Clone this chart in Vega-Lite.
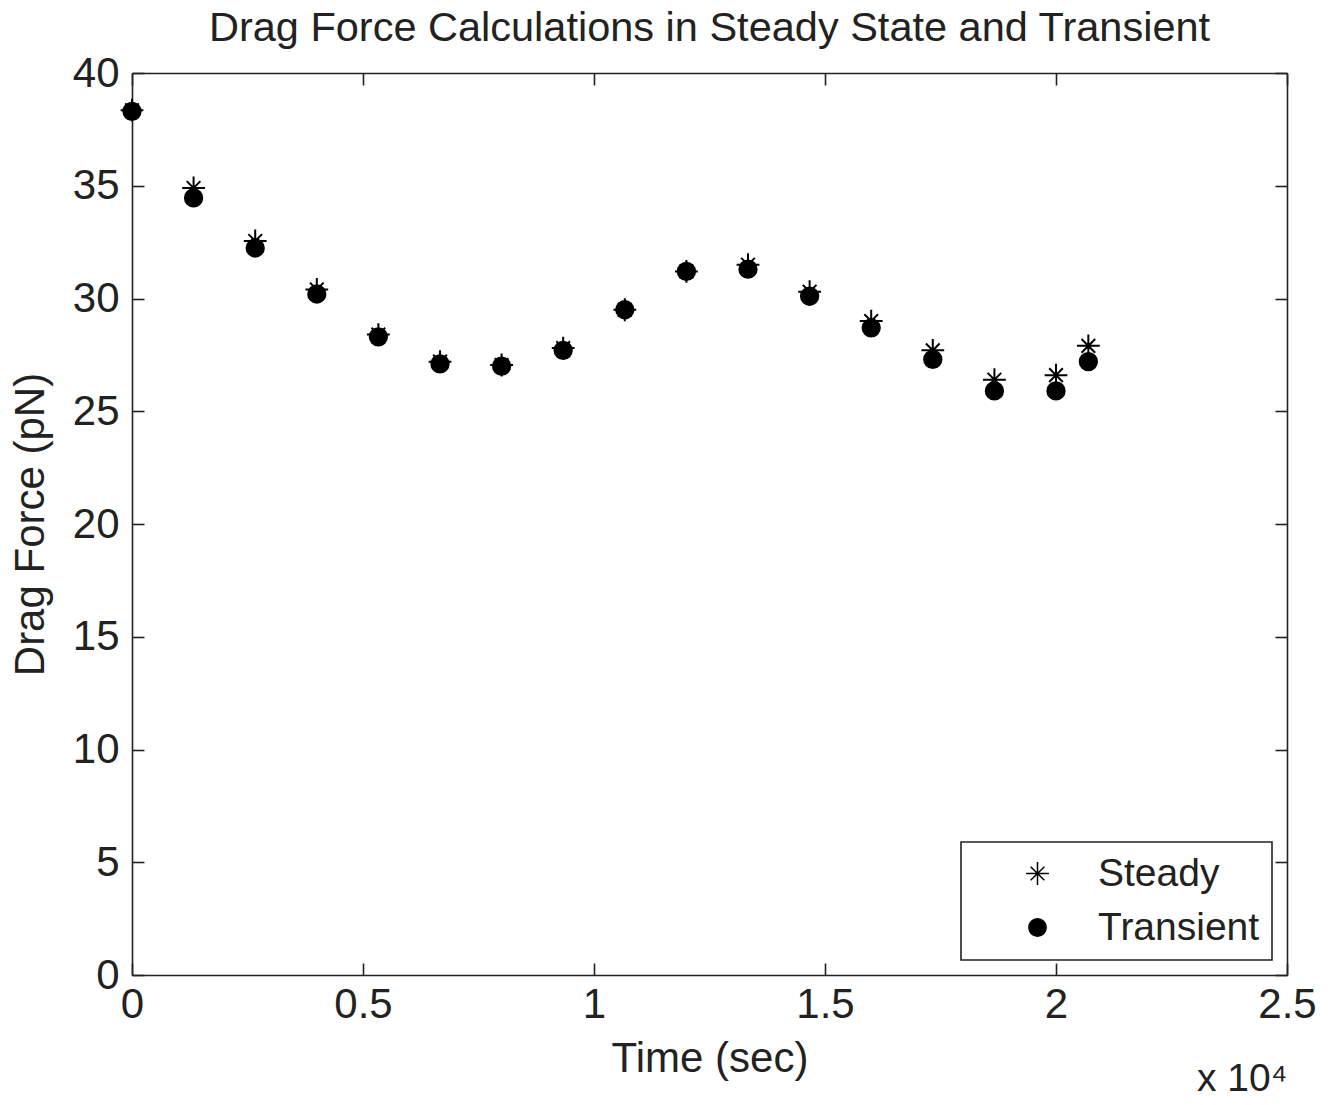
{
  "$schema": "https://vega.github.io/schema/vega-lite/v6.json",
  "width": 1155,
  "height": 902,
  "padding": {"left": 9, "top": 7, "right": 40, "bottom": 0},
  "background": "white",
  "title": {"text": "Drag Force Calculations in Steady State and Transient", "fontSize": 41.5, "font": "Liberation Sans", "fontWeight": "normal", "color": "#222", "offset": 3, "anchor": "middle"},
  "config": {
    "view": {"stroke": null},
    "font": "Liberation Sans",
    "axis": {"grid": false, "domainColor": "#222", "domainWidth": 1.6, "tickColor": "#222", "tickWidth": 1.6, "tickSize": -12, "labelFont": "Liberation Sans", "labelFontSize": 42, "labelColor": "#222", "labelFlush": false, "titleFont": "Liberation Sans", "titleFontSize": 42, "titleFontWeight": "normal", "titleColor": "#222"},
    "legend": {"strokeColor": "#222", "strokeWidth": 1.6, "fillColor": "white", "padding": 12, "labelFont": "Liberation Sans", "labelFontSize": 39, "labelColor": "#222", "labelLimit": 400, "symbolOffset": 45, "labelOffset": 41, "rowPadding": 14, "offset": 15}
  },
  "data": {"values": [
    {"time": 0, "force": 38.35, "series": "Steady"},
    {"time": 1333, "force": 34.9, "series": "Steady"},
    {"time": 2667, "force": 32.55, "series": "Steady"},
    {"time": 4000, "force": 30.4, "series": "Steady"},
    {"time": 5333, "force": 28.4, "series": "Steady"},
    {"time": 6667, "force": 27.2, "series": "Steady"},
    {"time": 8000, "force": 27.05, "series": "Steady"},
    {"time": 9333, "force": 27.8, "series": "Steady"},
    {"time": 10667, "force": 29.5, "series": "Steady"},
    {"time": 12000, "force": 31.2, "series": "Steady"},
    {"time": 13333, "force": 31.5, "series": "Steady"},
    {"time": 14667, "force": 30.3, "series": "Steady"},
    {"time": 16000, "force": 29.0, "series": "Steady"},
    {"time": 17333, "force": 27.7, "series": "Steady"},
    {"time": 18667, "force": 26.4, "series": "Steady"},
    {"time": 20000, "force": 26.6, "series": "Steady"},
    {"time": 20700, "force": 27.9, "series": "Steady"},
    {"time": 0, "force": 38.3, "series": "Transient"},
    {"time": 1333, "force": 34.46, "series": "Transient"},
    {"time": 2667, "force": 32.24, "series": "Transient"},
    {"time": 4000, "force": 30.2, "series": "Transient"},
    {"time": 5333, "force": 28.3, "series": "Transient"},
    {"time": 6667, "force": 27.1, "series": "Transient"},
    {"time": 8000, "force": 27.0, "series": "Transient"},
    {"time": 9333, "force": 27.7, "series": "Transient"},
    {"time": 10667, "force": 29.5, "series": "Transient"},
    {"time": 12000, "force": 31.2, "series": "Transient"},
    {"time": 13333, "force": 31.3, "series": "Transient"},
    {"time": 14667, "force": 30.1, "series": "Transient"},
    {"time": 16000, "force": 28.7, "series": "Transient"},
    {"time": 17333, "force": 27.3, "series": "Transient"},
    {"time": 18667, "force": 25.9, "series": "Transient"},
    {"time": 20000, "force": 25.9, "series": "Transient"},
    {"time": 20700, "force": 27.2, "series": "Transient"}
  ]},
  "layer": [
    {
      "mark": {"type": "point", "filled": true, "stroke": "black", "strokeWidth": 2, "opacity": 1},
      "encoding": {
        "x": {"field": "time", "type": "quantitative", "scale": {"domain": [0, 25000], "nice": false, "zero": false},
              "axis": {"values": [0, 5000, 10000, 15000, 20000, 25000], "labelExpr": "format(datum.value/10000, '~g')", "title": "Time (sec)", "labelPadding": 21, "titlePadding": 13}},
        "y": {"field": "force", "type": "quantitative", "scale": {"domain": [0, 40], "nice": false, "zero": true},
              "axis": {"values": [0, 5, 10, 15, 20, 25, 30, 35, 40], "title": "Drag Force (pN)", "labelPadding": 25, "titlePadding": 20}},
        "shape": {"field": "series", "type": "nominal", "scale": {"domain": ["Steady", "Transient"], "range": ["M-1,0H1M0,-1V1M-0.6,-0.6L0.6,0.6M-0.6,0.6L0.6,-0.6", "circle"]}, "legend": {"title": null, "orient": "bottom-right"}},
        "size": {"field": "series", "type": "nominal", "scale": {"domain": ["Steady", "Transient"], "range": [520, 300]}, "legend": {"title": null, "orient": "bottom-right"}},
        "color": {"value": "black"}
      }
    },
    {
      "mark": {"type": "point", "opacity": 0},
      "encoding": {
        "x": {"field": "time", "type": "quantitative", "axis": {"orient": "top", "values": [0, 5000, 10000, 15000, 20000, 25000], "labels": false, "title": null}},
        "y": {"field": "force", "type": "quantitative", "axis": {"orient": "right", "values": [0, 5, 10, 15, 20, 25, 30, 35, 40], "labels": false, "title": null}}
      }
    },
    {
      "mark": {"type": "point", "opacity": 0},
      "encoding": {
        "x": {"field": "time", "type": "quantitative", "axis": {"orient": "bottom", "labels": false, "ticks": false, "domain": false, "title": "x 10⁴", "titleAnchor": "end", "titleBaseline": "alphabetic", "titleY": 115, "titleFontSize": 39}}
      }
    }
  ],
  "resolve": {"axis": {"x": "independent", "y": "independent"}}
}
